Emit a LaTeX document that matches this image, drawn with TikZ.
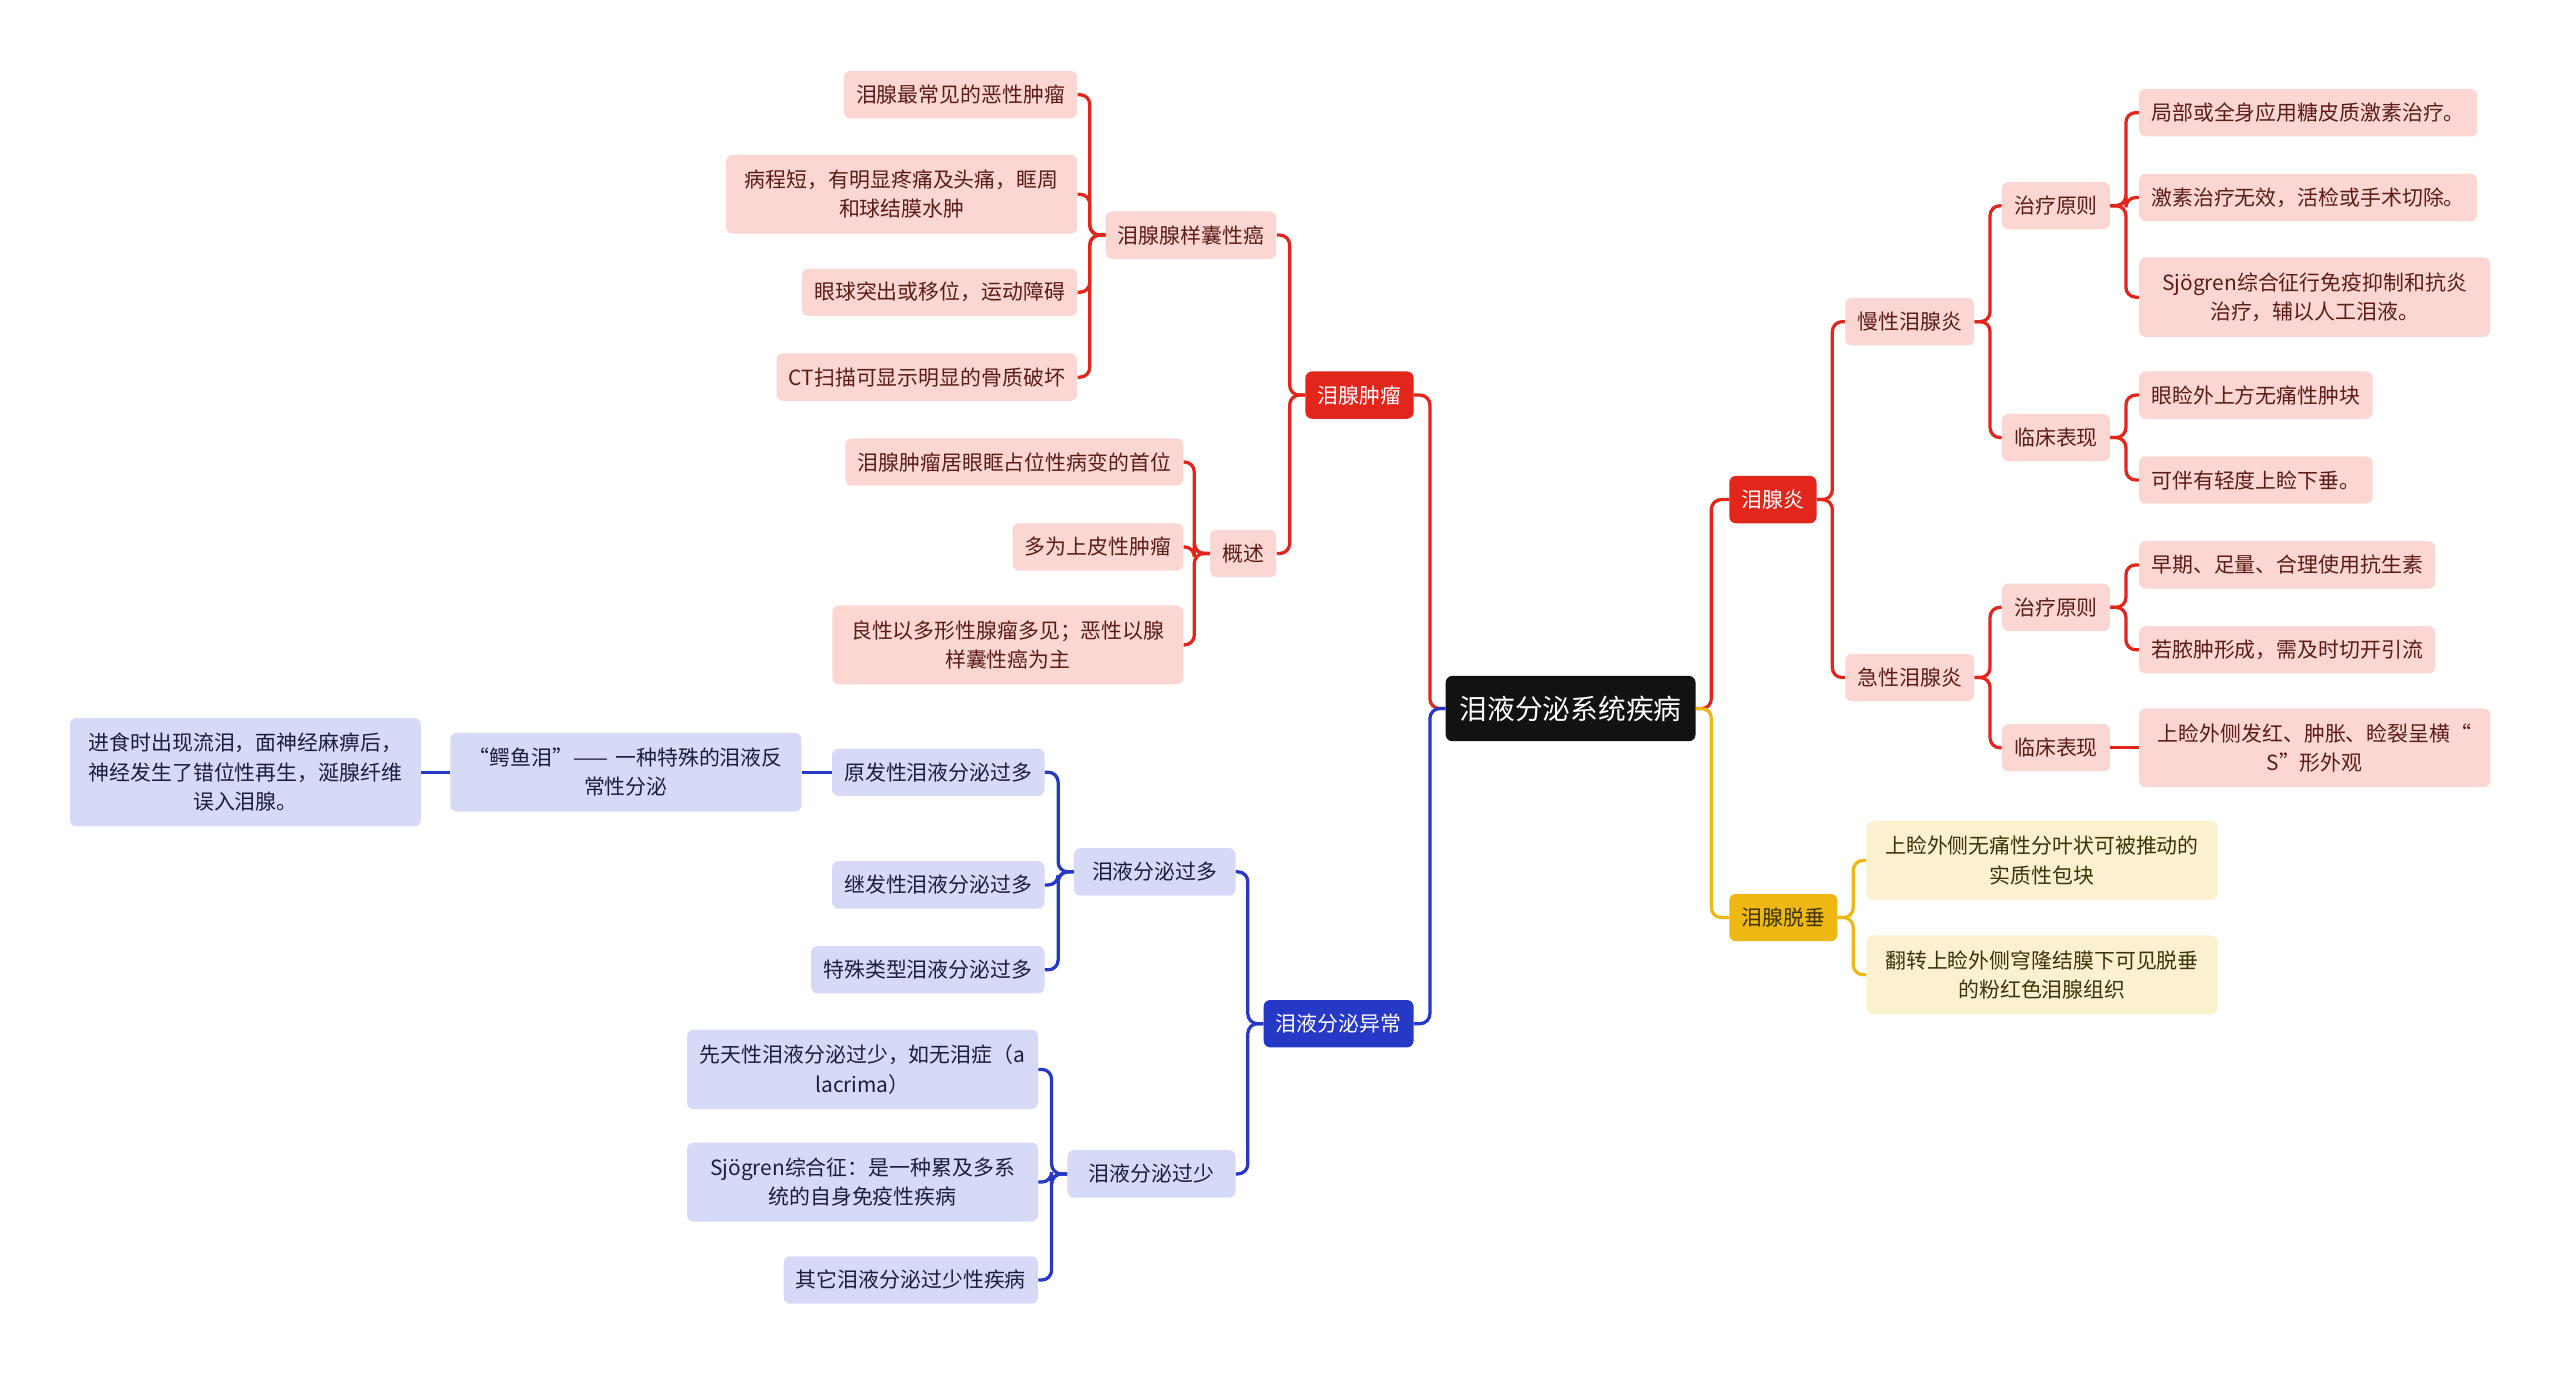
\documentclass[tikz,border=0pt]{standalone}
\usepackage{fontspec}
\setmainfont{Noto Sans CJK SC}
\usepackage{xcolor}
\usepackage{tikz}
\usetikzlibrary{positioning}
\definecolor{zred}{HTML}{E3261C}
\definecolor{zredlt}{HTML}{FCD6D3}
\definecolor{zredtx}{HTML}{5A1C16}
\definecolor{zblue}{HTML}{2538C6}
\definecolor{zbluelt}{HTML}{D6DAF6}
\definecolor{zbluetx}{HTML}{1B1D3C}
\definecolor{zyel}{HTML}{EFB713}
\definecolor{zyellt}{HTML}{FCF1CF}
\definecolor{zyeltx}{HTML}{3C3308}
\definecolor{zroot}{HTML}{121212}
\newcommand{\lconn}[3]{\draw[#1] (#2.west) -- ++(-9.5,0) |- (#3.east);}
\newcommand{\rconn}[3]{\draw[#1] (#2.east) -- ++(9.5,0) |- (#3.west);}

\begin{document}
\begin{tikzpicture}[x=1pt, y=-1pt,
 box/.style={rounded corners=4pt, inner xsep=7.5pt, inner ysep=6pt, minimum height=29pt, align=center,
  font=\fontsize{12.8}{18}\selectfont},
 wrapbox/.style={text width=200pt, inner ysep=9.2pt},
 rootbox/.style={box, fill=zroot, text=white, minimum height=40pt, inner xsep=8.5pt, font=\fontsize{17}{20}\selectfont},
 redmain/.style={box, fill=zred, text=white},
 redsub/.style={box, fill=zredlt, text=zredtx},
 bluemain/.style={box, fill=zblue, text=white},
 bluesub/.style={box, fill=zbluelt, text=zbluetx},
 yelmain/.style={box, fill=zyel, text=zyeltx},
 yelsub/.style={box, fill=zyellt, text=zyeltx},
 redline/.style={draw=zred, line width=2pt, rounded corners=6pt},
 blueline/.style={draw=zblue, line width=2pt, rounded corners=6pt},
 yelline/.style={draw=zyel, line width=2pt, rounded corners=6pt}]
\fill[white] (0,0) rectangle (1568,843);
\useasboundingbox (0,0) rectangle (1568,843);

\node[rootbox] (root) at (962,434) {泪液分泌系统疾病};

\node[redmain, anchor=east] (tumor) at (866,242) {泪腺肿瘤};
\node[redsub, anchor=east] (acc) at (782,144) {泪腺腺样囊性癌};
\node[redsub, anchor=east] (gs) at (782,339) {概述};
\node[redsub, anchor=east] (acc1) at (660,58) {泪腺最常见的恶性肿瘤};
\node[redsub, wrapbox, anchor=east] (acc2) at (660,119) {病程短，有明显疼痛及头痛，眶周\\和球结膜水肿};
\node[redsub, anchor=east] (acc3) at (660,179) {眼球突出或移位，运动障碍};
\node[redsub, anchor=east] (acc4) at (660,231) {CT扫描可显示明显的骨质破坏};
\node[redsub, anchor=east] (gs1) at (725,283) {泪腺肿瘤居眼眶占位性病变的首位};
\node[redsub, anchor=east] (gs2) at (725,335) {多为上皮性肿瘤};
\node[redsub, wrapbox, anchor=east] (gs3) at (725,395) {良性以多形性腺瘤多见；恶性以腺\\样囊性癌为主};

\node[bluemain, anchor=east] (sec) at (866,627) {泪液分泌异常};
\node[bluesub, anchor=east, minimum width=99pt] (more) at (757,534) {泪液分泌过多};
\node[bluesub, anchor=east, minimum width=103pt] (less) at (757,719) {泪液分泌过少};
\node[bluesub, anchor=east] (more1) at (640,473) {原发性泪液分泌过多};
\node[bluesub, anchor=east] (more2) at (640,542) {继发性泪液分泌过多};
\node[bluesub, anchor=east] (more3) at (640,594) {特殊类型泪液分泌过多};
\node[bluesub, wrapbox, anchor=east] (croc) at (491,473) {“鳄鱼泪”—— 一种特殊的泪液反\\常性分泌};
\node[bluesub, wrapbox, anchor=east] (cause) at (258,473) {进食时出现流泪，面神经麻痹后，\\神经发生了错位性再生，涎腺纤维\\误入泪腺。};
\node[bluesub, wrapbox, anchor=east] (less1) at (636,655) {先天性泪液分泌过少，如无泪症（a\\lacrima）};
\node[bluesub, wrapbox, anchor=east] (less2) at (636,724) {Sjögren综合征：是一种累及多系\\统的自身免疫性疾病};
\node[bluesub, anchor=east] (less3) at (636,784) {其它泪液分泌过少性疾病};

\node[redmain, anchor=west] (infl) at (1059,306) {泪腺炎};
\node[redsub, anchor=west] (chr) at (1130,197) {慢性泪腺炎};
\node[redsub, anchor=west] (acu) at (1130,415) {急性泪腺炎};
\node[redsub, anchor=west] (chrT) at (1226,126) {治疗原则};
\node[redsub, anchor=west] (chrC) at (1226,268) {临床表现};
\node[redsub, anchor=west] (chrT1) at (1310,69) {局部或全身应用糖皮质激素治疗。};
\node[redsub, anchor=west] (chrT2) at (1310,121) {激素治疗无效，活检或手术切除。};
\node[redsub, wrapbox, anchor=west] (chrT3) at (1310,182) {Sjögren综合征行免疫抑制和抗炎\\治疗，辅以人工泪液。};
\node[redsub, anchor=west] (chrC1) at (1310,242) {眼睑外上方无痛性肿块};
\node[redsub, anchor=west] (chrC2) at (1310,294) {可伴有轻度上睑下垂。};
\node[redsub, anchor=west] (acuT) at (1226,372) {治疗原则};
\node[redsub, anchor=west] (acuC) at (1226,458) {临床表现};
\node[redsub, anchor=west] (acuT1) at (1310,346) {早期、足量、合理使用抗生素};
\node[redsub, anchor=west] (acuT2) at (1310,398) {若脓肿形成，需及时切开引流};
\node[redsub, wrapbox, anchor=west] (acuC1) at (1310,458) {上睑外侧发红、肿胀、睑裂呈横“\\S”形外观};

\node[yelmain, anchor=west] (prol) at (1059,562) {泪腺脱垂};
\node[yelsub, wrapbox, anchor=west] (prol1) at (1143,527) {上睑外侧无痛性分叶状可被推动的\\实质性包块};
\node[yelsub, wrapbox, anchor=west] (prol2) at (1143,597) {翻转上睑外侧穹隆结膜下可见脱垂\\的粉红色泪腺组织};

\lconn{redline}{root}{tumor}
\lconn{redline}{tumor}{acc}
\lconn{redline}{tumor}{gs}
\foreach \c in {acc1,acc2,acc3,acc4} {\lconn{redline}{acc}{\c}}
\foreach \c in {gs1,gs2,gs3} {\lconn{redline}{gs}{\c}}
\lconn{blueline}{root}{sec}
\lconn{blueline}{sec}{more}
\lconn{blueline}{sec}{less}
\foreach \c in {more1,more2,more3} {\lconn{blueline}{more}{\c}}
\foreach \c in {less1,less2,less3} {\lconn{blueline}{less}{\c}}
\draw[blueline] (more1.west) -- (croc.east);
\draw[blueline] (croc.west) -- (cause.east);

\rconn{redline}{root}{infl}
\rconn{redline}{infl}{chr}
\rconn{redline}{infl}{acu}
\rconn{redline}{chr}{chrT}
\rconn{redline}{chr}{chrC}
\foreach \c in {chrT1,chrT2,chrT3} {\rconn{redline}{chrT}{\c}}
\foreach \c in {chrC1,chrC2} {\rconn{redline}{chrC}{\c}}
\rconn{redline}{acu}{acuT}
\rconn{redline}{acu}{acuC}
\foreach \c in {acuT1,acuT2} {\rconn{redline}{acuT}{\c}}
\draw[redline] (acuC.east) -- (acuC1.west |- acuC.east);
\rconn{yelline}{root}{prol}
\rconn{yelline}{prol}{prol1}
\rconn{yelline}{prol}{prol2}
\end{tikzpicture}
\end{document}
